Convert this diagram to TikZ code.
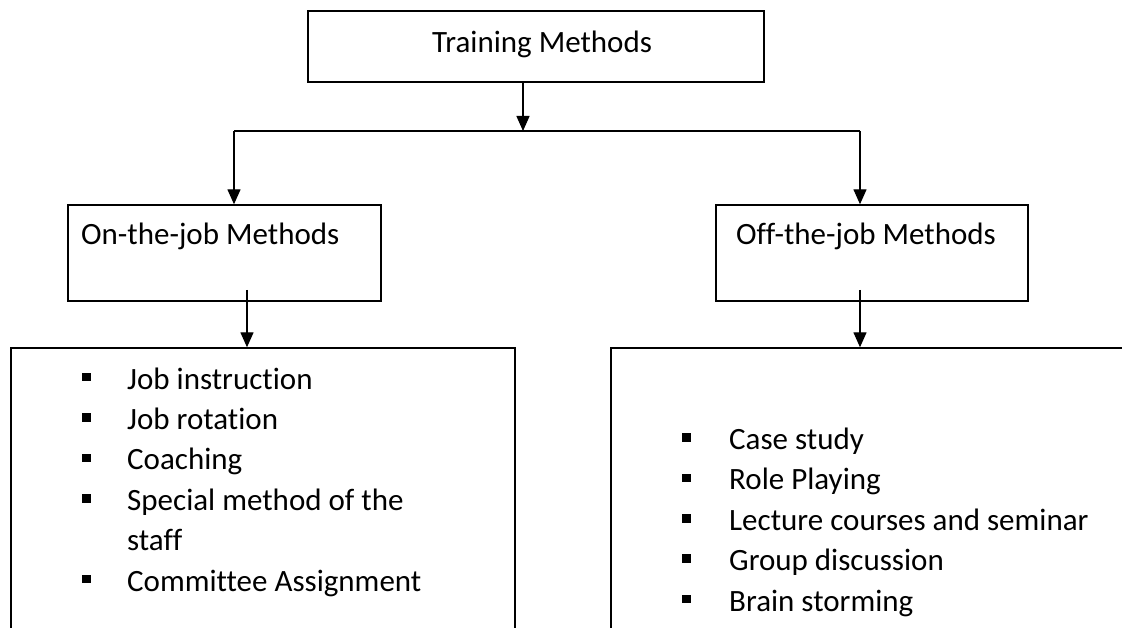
\documentclass[tikz,border=0pt]{standalone}
\usepackage{fontspec}
\setmainfont[Ligatures={NoCommon}]{Carlito}
\usetikzlibrary{arrows.meta}
\begin{document}
\begin{tikzpicture}[x=1pt,y=-1pt,
  box/.style={draw,line width=1.4pt,inner sep=0pt,rectangle},
  arr/.style={line width=1.4pt,-{Triangle[width=13pt,length=15pt]}},
  plain/.style={line width=1.4pt},
  txt/.style={anchor=base west,inner sep=0pt,font=\fontsize{31}{40.4}\selectfont},
  bul/.style={fill,rectangle,minimum size=8.5pt,inner sep=0pt,anchor=south west}]
\clip (0,0) rectangle (1122,628);
\fill[white] (0,0) rectangle (1122,628);
% boxes
\node[box,line width=2pt,minimum width=456pt,minimum height=71pt] (top) at (536,46.5) {};
\node[box,minimum width=313pt,minimum height=96pt] (on) at (224.5,253) {};
\node[box,minimum width=312pt,minimum height=96pt] (off) at (872,253) {};
\node[box,minimum width=504pt,minimum height=332pt] (onlist) at (263,514) {};
\node[box,minimum width=539pt,minimum height=332pt] (offlist) at (880.5,514) {};
% titles
\node[txt] (ttop) at (432,53) {Training Methods};
\node[txt] (ton) at (81,245) {On-the-job Methods};
\node[txt] (toff) at (736,245) {Off-the-job Methods};
% connectors
\coordinate (split) at (523,131);
\coordinate (lj) at (234,131);
\coordinate (rj) at (860,131);
\coordinate (a1) at (247,290);
\coordinate (a2) at (860,290);
\draw[arr] (top.south -| split) -- (split);
\draw[plain] (lj) -- (rj);
\draw[arr] (lj) -- (lj |- on.north);
\draw[arr] (rj) -- (rj |- off.north);
\draw[arr] (a1) -- (a1 |- onlist.north);
\draw[arr] (a2) -- (a2 |- offlist.north);
% left list
\foreach \t/\b [count=\i] in {Job instruction/389, Job rotation/429.4, Coaching/469.8, Special method of the/510.2}{
  \node[bul] (lb\i) at (82,\b-7.5) {};
  \node[txt] (lt\i) at (127,\b) {\t};
}
\node[txt] (lt5) at (127,550.6) {staff};
\node[bul] (lb6) at (82,591-7.5) {};
\node[txt] (lt6) at (127,591) {Committee Assignment};
% right list
\foreach \t/\b [count=\i] in {Case study/449.4, Role Playing/489.8, Lecture courses and seminar/530.2, Group discussion/570.6, Brain storming/611}{
  \node[bul] (rb\i) at (682,\b-7.5) {};
  \node[txt] (rt\i) at (729,\b) {\t};
}
\end{tikzpicture}
\end{document}
